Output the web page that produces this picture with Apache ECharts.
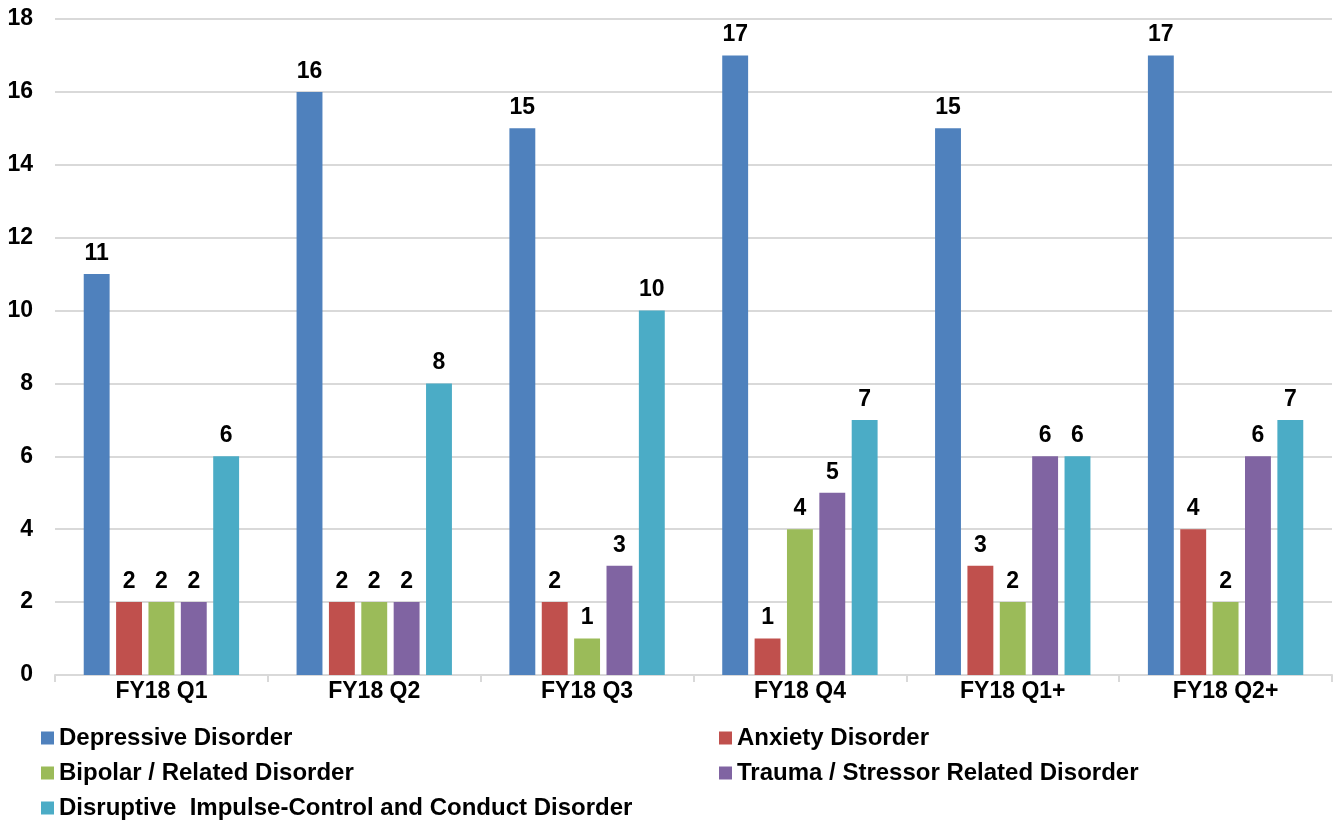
<!DOCTYPE html>
<html>
<head>
<meta charset="utf-8">
<script src="https://cdn.jsdelivr.net/npm/echarts@6/dist/echarts.min.js"></script>
<style>
  html, body { margin: 0; padding: 0; background: #fff; }
  #chart { width: 1336px; height: 820px; }
</style>
</head>
<body>
<div id="chart"></div>
<script>
// 季度分类
const quarters = ['FY18 Q1', 'FY18 Q2', 'FY18 Q3', 'FY18 Q4', 'FY18 Q1+', 'FY18 Q2+'];
// 每个诊断的人数
const depressive = [11, 16, 15, 17, 15, 17];
const anxiety = [2, 2, 2, 1, 3, 4];
const bipolar = [2, 2, 1, 4, 2, 2];
const trauma = [2, 2, 3, 5, 6, 6];
const disruptive = [6, 8, 10, 7, 6, 7];
const yTicks = [0, 2, 4, 6, 8, 10, 12, 14, 16, 18];

const names = [
  'Depressive Disorder',
  'Anxiety Disorder',
  'Bipolar / Related Disorder',
  'Trauma / Stressor Related Disorder',
  'Disruptive  Impulse-Control and Conduct Disorder'
];
const colors = ['#4F81BD', '#C0504D', '#9BBB59', '#8064A2', '#4BACC6'];
const values = [depressive, anxiety, bipolar, trauma, disruptive];

const font = 'Liberation Sans, Arial, sans-serif';
const fs = 23;

// 图例位置：两列排列
const legendPos = [
  { left: 41, top: 726 },
  { left: 719, top: 726 },
  { left: 41, top: 761 },
  { left: 719, top: 761 },
  { left: 41, top: 796 }
];

const chart = echarts.init(document.getElementById('chart'));
const option = {
  animation: false,
  color: colors,
  grid: { left: 55, right: 4, top: 19, bottom: 145, containLabel: false },
  legend: names.map((n, i) => ({
    data: [n],
    left: legendPos[i].left,
    top: legendPos[i].top,
    icon: 'rect',
    itemWidth: 13,
    itemHeight: 13,
    itemGap: 6,
    padding: 0,
    textStyle: { fontFamily: font, fontWeight: 'bold', fontSize: 24, color: '#000', padding: [0, 0, 0, 0] }
  })),
  xAxis: {
    type: 'category',
    data: quarters,
    axisLine: { lineStyle: { color: '#d9d9d9', width: 2 } },
    axisTick: { show: true, length: 7, lineStyle: { color: '#d9d9d9', width: 2 } },
    axisLabel: { fontFamily: font, fontWeight: 'bold', fontSize: fs, color: '#000', margin: 5 }
  },
  yAxis: {
    type: 'value',
    min: yTicks[0],
    max: yTicks[yTicks.length - 1],
    interval: 2,
    axisLine: { show: false },
    axisTick: { show: false },
    splitLine: { lineStyle: { color: '#d9d9d9', width: 2 } },
    axisLabel: { fontFamily: font, fontWeight: 'bold', fontSize: fs, color: '#000', margin: 22 }
  },
  series: names.map((n, i) => ({
    name: n,
    type: 'bar',
    data: values[i],
    barGap: '25%',
    barCategoryGap: '27%',
    itemStyle: { color: colors[i] },
    label: {
      show: true,
      position: 'top',
      distance: 9,
      fontFamily: font,
      fontWeight: 'bold',
      fontSize: fs,
      color: '#000'
    }
  }))
};
chart.setOption(option);
</script>
</body>
</html>
